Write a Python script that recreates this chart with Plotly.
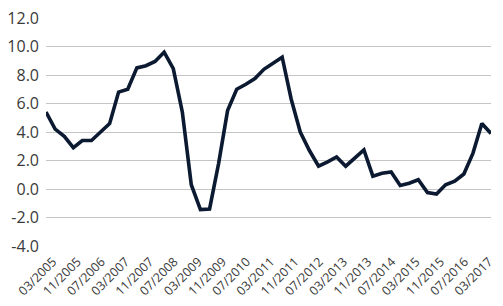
import plotly.graph_objects as go
import pandas as pd

dates = pd.date_range("2005-03-01", "2017-06-01", freq="3MS").strftime("%Y-%m-%d").tolist()
values = [5.4, 4.2, 3.7, 2.9, 3.4, 3.4, 4.0, 4.6, 6.8, 7.0,
          8.5, 8.65, 8.95, 9.6, 8.45, 5.4, 0.3, -1.45, -1.4, 1.8,
          5.5, 7.0, 7.35, 7.75, 8.4, 8.85, 9.25, 6.3, 4.0, 2.7,
          1.6, 1.9, 2.25, 1.6, 2.2, 2.75, 0.9, 1.1, 1.2, 0.25,
          0.4, 0.65, -0.25, -0.35, 0.3, 0.55, 1.05, 2.5, 4.6, 3.9]
y_ticks = [-4, -2, 0, 2, 4, 6, 8, 10, 12]

fig = go.Figure()
fig.add_trace(go.Scatter(x=dates, y=values, mode="lines",
                         line=dict(color="#0b1a30", width=3.6)))

fig.update_layout(
    width=503, height=306,
    margin=dict(l=46, r=7, t=18, b=58),
    paper_bgcolor="white", plot_bgcolor="white",
    showlegend=False,
    font=dict(family="Open Sans", color="#3a3a3a"),
)
fig.update_xaxes(
    type="date", range=[dates[0], dates[-1]],
    tick0="2005-03-01", dtick="M8", tickformat="%m/%Y",
    tickangle=-45, tickfont=dict(size=12.5),
    showgrid=False, showline=False, zeroline=False, ticks="",
    ticklabelshift=7, ticklabelstandoff=5,
)
fig.update_yaxes(
    range=[-4, 12], tickvals=y_ticks,
    ticktext=[f"{v:.1f}" for v in y_ticks],
    tickfont=dict(size=16),
    showgrid=True, gridcolor="#c4c4c4", gridwidth=1,
    zeroline=False, showline=False, ticks="", ticklabelstandoff=6,
)
fig.write_html("out.html")
